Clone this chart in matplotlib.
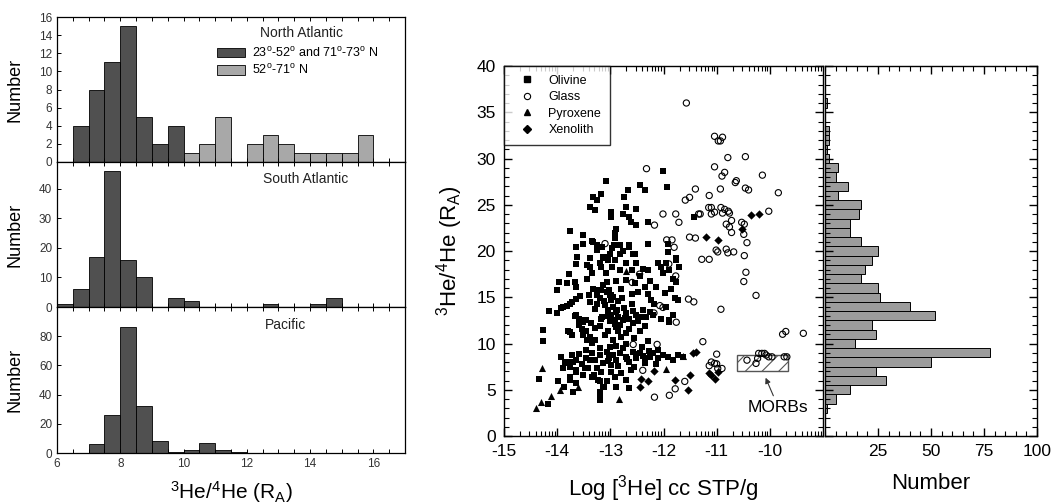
import numpy as np
import matplotlib.pyplot as plt
from matplotlib.patches import Rectangle
from matplotlib.lines import Line2D
from matplotlib.ticker import MultipleLocator, FixedLocator, NullFormatter

plt.rcParams['font.family'] = ['Liberation Sans', 'DejaVu Sans']
plt.rcParams['mathtext.fontset'] = 'custom'
plt.rcParams['mathtext.rm'] = 'Liberation Sans'
plt.rcParams['mathtext.it'] = 'Liberation Sans:italic'
plt.rcParams['mathtext.bf'] = 'Liberation Sans:bold'
plt.rcParams['mathtext.default'] = 'regular'
plt.rcParams['axes.unicode_minus'] = False
plt.rcParams['hatch.color'] = '#444444'
plt.rcParams['hatch.linewidth'] = 0.8

# ---- left histograms: bin left edges (width 0.5 RA) and counts
na_dark_left = [6.5, 7.0, 7.5, 8.0, 8.5, 9.0, 9.5]
na_dark_counts = [4, 8, 11, 15, 5, 2, 4]
na_light_left = [10.0, 10.5, 11.0, 12.0, 12.5, 13.0, 13.5, 14.0, 14.5, 15.0, 15.5]
na_light_counts = [1, 2, 5, 2, 3, 2, 1, 1, 1, 1, 3]
sa_left = [6.0, 6.5, 7.0, 7.5, 8.0, 8.5, 9.5, 10.0, 12.5, 14.0, 14.5]
sa_counts = [1, 6, 17, 46, 16, 10, 3, 2, 1, 1, 3]
pa_left = [7.0, 7.5, 8.0, 8.5, 9.0, 9.5, 10.0, 10.5, 11.0, 11.5]
pa_counts = [6, 26, 86, 32, 8, 1, 2, 7, 2, 1]

# ---- right histogram (bins centred on integer RA)
ra_centers = [3, 4, 5, 6, 7, 8, 9, 10, 11, 12, 13, 14, 15, 16, 17, 18, 19, 20,
              21, 22, 23, 24, 25, 26, 27, 28, 29, 30, 31, 32, 33, 36]
ra_counts = [1, 5, 12, 29, 24, 50, 78, 14, 24, 22, 52, 40, 26, 25, 17, 19, 22, 25,
             17, 12, 12, 16, 17, 6, 11, 5, 6, 2, 1, 2, 2, 1]

# ---- scatter: log[3He] and 3He/4He
olivine_x = [-12.01, -11.94, -13.09, -12.44, -12.35, -12.67, -13.17, -13.32, -13.26, -12.74,
             -13.39, -13.28, -12.71, -12.51, -12.98, -12.76, -12.65, -12.99, -12.62, -12.52,
             -12.29, -11.42, -13.76, -13.52, -13.51, -12.89, -12.92, -12.92, -12.93, -13.32,
             -13.26, -12.82, -12.29, -11.92, -11.92, -12.96, -12.76, -13.64, -13.15, -12.57,
             -11.76, -13.39, -13.34, -13.62, -13.64, -13.44, -13.14, -13.07, -13.17, -13.04,
             -12.97, -13.35, -13.78, -13.96, -14.00, -13.67, -13.65, -13.44, -13.09, -13.06,
             -13.26, -13.17, -13.57, -13.40, -12.99, -12.95, -14.15, -14.00, -13.76, -13.89,
             -14.26, -14.27, -13.76, -13.64, -13.54, -13.59, -13.51, -13.44, -13.86, -13.76,
             -13.64, -13.70, -14.34, -13.98, -13.87, -13.75, -13.70, -14.17, -13.20, -13.30,
             -13.20, -13.12, -13.82, -13.92, -13.81, -13.73, -13.64, -13.66, -13.59, -13.51,
             -13.79, -13.73, -13.54, -13.51, -13.45, -13.39, -13.29, -13.45, -13.37, -13.29,
             -13.39, -13.26, -13.20, -13.32, -13.26, -13.14, -13.07, -13.02, -13.01, -12.98,
             -12.95, -13.04, -12.98, -12.92, -12.89, -12.86, -12.79, -12.82, -12.76, -12.70,
             -12.64, -12.57, -12.64, -12.70, -12.51, -12.42, -12.32, -12.39, -12.26, -12.20,
             -12.54, -12.48, -12.35, -12.29, -12.23, -12.17, -12.14, -12.10, -12.04, -12.01,
             -11.95, -11.89, -11.82, -11.76, -11.71, -11.76, -11.79, -11.73, -11.89, -11.90,
             -12.92, -12.82, -12.70, -12.60, -12.51, -12.39, -12.29, -13.14, -13.01, -13.26,
             -13.20, -13.39, -12.82, -12.64, -12.54, -12.64,
             -13.92, -13.82, -13.73, -13.64, -13.54, -13.45, -13.35, -13.29, -13.20, -13.14,
             -13.07, -13.01, -12.95, -12.89, -12.82, -12.76, -12.70, -12.64, -12.57, -12.51,
             -12.45, -12.35, -12.26, -12.20, -12.10, -12.01, -11.92, -11.82, -11.73, -11.64,
             -13.26, -13.17, -13.35, -13.23, -13.14, -13.19, -13.07, -12.98, -12.92, -12.79,
             -12.70, -12.89, -12.64, -13.64, -13.51, -13.42, -13.76, -13.89, -13.64, -13.20,
             -13.10, -12.85, -12.75, -12.60, -12.90, -13.15, -13.00, -12.85, -13.20, -13.05,
             -13.10, -12.95, -12.55, -12.45, -12.35, -12.30, -13.20, -12.90, -12.70, -12.40,
             -12.10, -13.45, -13.05, -12.85, -12.55, -12.35, -12.15, -13.35, -11.95, -11.82,
             -12.05, -11.98, -11.85, -12.60, -12.80, -12.90, -12.70, -12.45, -12.25,
             -13.05, -12.88, -12.72, -12.48, -13.28, -13.12, -12.78, -12.58, -12.92, -13.18,
             -13.02, -12.68, -12.52, -12.38, -13.38, -13.58, -13.48, -12.98, -12.62, -12.28]
olivine_y = [28.7, 26.9, 27.6, 27.1, 26.6, 26.6, 26.2, 25.8, 25.5, 25.8,
             24.8, 24.4, 24.8, 24.5, 24.2, 24.0, 23.7, 23.7, 23.1, 22.8,
             23.1, 23.7, 22.2, 21.7, 20.8, 22.4, 21.9, 21.4, 20.7, 21.0,
             20.7, 20.6, 20.8, 20.8, 19.9, 20.3, 20.0, 20.4, 20.4, 19.7,
             19.2, 19.2, 21.1, 19.4, 18.6, 18.5, 19.2, 19.4, 18.3, 19.0,
             18.3, 17.6, 17.5, 16.7, 15.8, 16.7, 16.1, 17.0, 17.6, 16.6,
             15.8, 15.8, 15.1, 15.2, 15.2, 15.0, 13.5, 13.25, 14.3, 14.0,
             11.5, 10.3, 11.2, 13.1, 12.5, 12.0, 10.9, 10.4, 7.85, 7.5,
             7.1, 8.0, 6.2, 5.9, 5.3, 6.05, 4.8, 3.45, 4.07, 6.6,
             5.9, 5.3, 16.5, 13.8, 14.1, 14.5, 14.8, 13.0, 12.7, 12.3,
             11.3, 10.9, 11.6, 11.1, 11.3, 10.7, 10.4, 12.5, 12.2, 11.7,
             14.5, 14.3, 14.9, 15.9, 15.2, 16.3, 15.6, 15.8, 15.2, 14.7,
             14.0, 13.6, 13.1, 12.5, 11.8, 11.3, 10.7, 12.0, 12.5, 13.25,
             12.7, 12.2, 11.6, 11.1, 13.1, 12.9, 12.9, 13.6, 13.4, 13.1,
             16.5, 15.6, 16.1, 15.4, 14.7, 14.3, 16.1, 18.65, 18.3, 17.6,
             18.65, 17.9, 17.0, 19.0, 18.3, 16.7, 14.9, 14.7, 12.5, 12.3,
             19.0, 17.9, 18.65, 17.9, 18.65, 18.1, 17.9, 19.4, 19.7, 20.1,
             18.65, 18.3, 19.7, 20.4, 19.7, 20.6,
             8.56, 8.0, 8.75, 8.2, 7.8, 8.4, 8.93, 8.2, 8.75, 7.85,
             9.1, 9.6, 8.75, 8.2, 8.93, 9.5, 8.56, 8.0, 9.1, 8.4,
             8.93, 8.4, 8.56, 8.93, 8.4, 8.75, 8.56, 8.2, 8.75, 8.56,
             7.3, 6.95, 6.4, 6.05, 5.3, 4.8, 5.9, 6.95, 6.4, 6.8,
             6.05, 5.3, 5.15, 6.95, 6.6, 7.3, 6.4, 7.3, 5.7, 3.9,
             14.2, 14.6, 13.8, 14.3, 13.4, 12.9, 12.4, 12.9, 11.9, 11.4,
             10.9, 10.4, 10.6, 11.3, 11.9, 10.3, 9.5, 9.7, 9.9, 9.6,
             9.3, 9.3, 8.1, 7.6, 7.5, 7.9, 7.8, 10.1, 13.9, 13.1,
             12.7, 15.5, 15.9, 15.4, 15.9, 16.8, 16.9, 17.3, 16.8,
             13.0, 13.6, 12.8, 12.4, 13.7, 14.6, 14.9, 13.5, 12.1, 12.6,
             8.4, 8.3, 8.9, 8.7, 8.2, 8.9, 7.3, 7.7, 7.1, 9.2]

glass_x = [-11.57, -12.32, -12.01, -12.17, -11.77, -11.71, -11.94, -11.84, -11.80, -13.10,
           -11.51, -11.40, -11.59, -11.51, -11.40, -11.31, -11.04, -10.97, -11.04, -11.14,
           -11.15, -11.10, -11.04, -11.10, -11.34, -11.28, -11.14, -11.01, -12.59, -12.45,
           -11.77, -10.89, -10.93, -10.79, -10.46, -10.85, -10.90, -10.63, -10.65, -10.93,
           -10.46, -10.40, -10.14, -9.84, -10.92, -10.85, -10.78, -10.76, -10.89, -10.02,
           -10.72, -10.82, -10.76, -10.72, -10.53, -10.48, -10.49, -10.43, -10.98, -10.82,
           -10.79, -10.68, -10.48, -10.45, -10.49, -10.26, -10.92, -9.76, -9.70, -9.37,
           -11.00, -11.00, -10.98, -10.90, -10.21, -10.15, -10.10, -10.07, -10.02, -9.96,
           -9.73, -9.68, -10.23, -10.43, -10.26, -11.53, -11.43, -12.01, -12.18, -11.76,
           -12.57, -12.12, -11.26, -12.39, -11.60, -11.78, -11.89, -12.17, -11.10, -11.04,
           -11.14, -12.07, -11.90]
glass_y = [36.0, 28.9, 24.0, 22.8, 24.0, 23.1, 21.2, 21.2, 20.4, 20.8,
           21.5, 21.4, 25.5, 25.8, 26.7, 24.0, 32.4, 31.9, 29.1, 26.0,
           24.7, 24.7, 24.2, 24.0, 24.0, 19.1, 19.1, 20.1, 16.6, 17.5,
           17.3, 32.3, 31.9, 30.1, 30.2, 28.5, 28.1, 27.6, 27.4, 26.7,
           26.8, 26.6, 28.2, 26.3, 24.7, 24.5, 24.3, 24.1, 24.1, 24.3,
           23.3, 22.9, 22.6, 22.0, 23.1, 22.9, 21.8, 20.9, 19.9, 20.2,
           19.8, 19.9, 19.5, 17.7, 16.7, 15.2, 13.7, 11.0, 11.3, 11.1,
           8.85, 7.8, 7.3, 7.3, 8.93, 8.93, 8.93, 8.75, 8.56, 8.56,
           8.56, 8.56, 8.39, 8.2, 7.85, 14.8, 14.5, 13.9, 13.3, 12.3,
           9.9, 9.9, 10.2, 7.1, 5.9, 5.1, 4.4, 4.2, 8.0, 7.85,
           7.6, 14.1, 18.6]

pyroxene_x = [-14.40, -14.31, -14.12, -14.28, -13.61, -12.84, -11.95, -11.64, -12.71, -13.95]
pyroxene_y = [3.0, 3.7, 4.3, 7.3, 5.3, 4.0, 7.2, 8.7, 17.85, 5.0]

xenolith_x = [-11.21, -10.98, -10.35, -10.21, -10.53, -11.45, -11.38, -12.17, -12.42, -12.29,
              -12.45, -11.79, -11.51, -11.53, -11.10, -11.04, -11.14, -10.98]
xenolith_y = [21.5, 21.2, 23.9, 24.0, 22.4, 9.0, 9.1, 7.0, 6.2, 6.0,
              5.3, 6.05, 6.6, 5.0, 6.6, 6.2, 6.77, 6.94]

morb_x = (-10.62, -9.65)
morb_y = (7.0, 8.75)

# ---------------------------------------------------------------
fig = plt.figure(figsize=(10.52, 5.04), dpi=100)

dark = '#505050'
light = '#a8a8a8'
W, H = 1052.0, 504.0


def px_axes(x0, y0, x1, y1):
    return fig.add_axes([x0 / W, 1 - y1 / H, (x1 - x0) / W, (y1 - y0) / H])


ax_na = px_axes(57, 17, 405, 162)
ax_sa = px_axes(57, 162, 405, 307)
ax_pa = px_axes(57, 307, 405, 453)

ax_na.bar(na_dark_left, na_dark_counts, width=0.5, align='edge', color=dark,
          edgecolor='black', lw=0.6, label='23$^o$-52$^o$ and 71$^o$-73$^o$ N')
ax_na.bar(na_light_left, na_light_counts, width=0.5, align='edge', color=light,
          edgecolor='black', lw=0.6, label='52$^o$-71$^o$ N')
ax_sa.bar(sa_left, sa_counts, width=0.5, align='edge', color=dark, edgecolor='black', lw=0.6)
ax_pa.bar(pa_left, pa_counts, width=0.5, align='edge', color=dark, edgecolor='black', lw=0.6)

ax_na.set_ylim(0, 16)
ax_na.yaxis.set_major_locator(MultipleLocator(2))
ax_sa.set_ylim(0, 49)
ax_sa.yaxis.set_major_locator(FixedLocator([0, 10, 20, 30, 40]))
ax_pa.set_ylim(0, 100)
ax_pa.yaxis.set_major_locator(FixedLocator([0, 20, 40, 60, 80]))

for a in (ax_na, ax_sa, ax_pa):
    a.set_xlim(6, 17)
    a.xaxis.set_major_locator(MultipleLocator(2))
    a.xaxis.set_minor_locator(MultipleLocator(0.5))
    a.tick_params(axis='both', which='both', direction='in', top=True,
                  labelsize=8.5, labelcolor='#333333', length=3, width=0.7)
    a.set_ylabel('Number', fontsize=13)
    a.yaxis.set_label_coords(-0.095, 0.5)
    for s in a.spines.values():
        s.set_linewidth(0.9)
for a in (ax_na, ax_sa):
    a.tick_params(labelbottom=False)

ax_na.text(0.704, 0.89, 'North Atlantic', transform=ax_na.transAxes, ha='center',
           va='center', fontsize=10, color='#222222')
ax_na.legend(loc='upper left', bbox_to_anchor=(0.46, 0.80), frameon=False, fontsize=9,
             handlelength=2.2, handleheight=0.8, handletextpad=0.6, labelspacing=0.25,
             borderaxespad=0, borderpad=0)
ax_sa.text(0.714, 0.88, 'South Atlantic', transform=ax_sa.transAxes, ha='center',
           va='center', fontsize=10, color='#222222')
ax_pa.text(0.657, 0.877, 'Pacific', transform=ax_pa.transAxes, ha='center',
           va='center', fontsize=10, color='#222222')
ax_pa.set_xlabel('$^3$He/$^4$He (R$_A$)', fontsize=15, labelpad=7)

# ---- scatter
ax_sc = px_axes(504, 66, 823, 436)
ax_sc.scatter(olivine_x, olivine_y, marker='s', s=22, c='black', lw=0, zorder=3)
ax_sc.scatter(glass_x, glass_y, marker='o', s=20, facecolors='none', edgecolors='black',
              lw=0.8, zorder=3)
ax_sc.scatter(pyroxene_x, pyroxene_y, marker='^', s=26, c='black', lw=0, zorder=3)
ax_sc.scatter(xenolith_x, xenolith_y, marker='D', s=18, c='black', lw=0, zorder=3)

ax_sc.add_patch(Rectangle((morb_x[0], morb_y[0]), morb_x[1] - morb_x[0], morb_y[1] - morb_y[0],
                          facecolor='none', edgecolor='#555555', hatch='//', lw=1.0, zorder=2))
ax_sc.annotate('MORBs', xy=(-10.08, 6.3), xytext=(-9.84, 3.1), ha='center', va='center',
               fontsize=12.5, arrowprops=dict(arrowstyle='-|>', color='#333333', lw=0.8,
                                             mutation_scale=8, shrinkA=1, shrinkB=0))

ax_sc.set_xlim(-15, -9)
ax_sc.set_ylim(0, 40)
ax_sc.xaxis.set_major_locator(FixedLocator([-15, -14, -13, -12, -11, -10]))
ax_sc.xaxis.set_minor_locator(FixedLocator([d + np.log10(k) for d in range(-15, -9)
                                            for k in range(2, 10)]))
ax_sc.yaxis.set_major_locator(MultipleLocator(5))
ax_sc.yaxis.set_minor_locator(MultipleLocator(1))
ax_sc.tick_params(axis='both', which='major', direction='in', top=True, right=True,
                  length=6, width=1.0, labelsize=12.5, pad=6)
ax_sc.tick_params(axis='both', which='minor', direction='in', top=True, right=True,
                  length=3.5, width=0.8)
ax_sc.set_xlabel('Log [$^3$He] cc STP/g', fontsize=16, labelpad=10)
ax_sc.set_ylabel('$^3$He/$^4$He (R$_A$)', fontsize=16, labelpad=8)
for s in ax_sc.spines.values():
    s.set_linewidth(1.0)

handles = [Line2D([], [], ls='none', marker='s', ms=4.5, color='black'),
           Line2D([], [], ls='none', marker='o', ms=4.5, mfc='none', mec='black', mew=0.8),
           Line2D([], [], ls='none', marker='^', ms=5, color='black'),
           Line2D([], [], ls='none', marker='D', ms=4, color='black')]
leg = ax_sc.legend(handles, ['Olivine', 'Glass', 'Pyroxene', 'Xenolith'], loc='upper left',
                   bbox_to_anchor=(0, 1), borderaxespad=0, fontsize=9, fancybox=False,
                   edgecolor='black', handlelength=2.2, handletextpad=0.65,
                   labelspacing=0.35, borderpad=0.7)
leg.get_frame().set_linewidth(1.0)

# ---- right histogram
ax_h = px_axes(825, 66, 1037, 436)
ax_h.barh(ra_centers, ra_counts, height=1.0, color='#9c9c9c', edgecolor='black', lw=0.7)
ax_h.set_ylim(0, 40)
ax_h.set_xlim(0, 100)
ax_h.xaxis.set_major_locator(FixedLocator([25, 50, 75, 100]))
ax_h.xaxis.set_minor_locator(MultipleLocator(5))
ax_h.yaxis.set_major_locator(MultipleLocator(5))
ax_h.yaxis.set_minor_locator(MultipleLocator(1))
ax_h.yaxis.set_major_formatter(NullFormatter())
ax_h.tick_params(axis='both', which='major', direction='in', top=True, right=True,
                 length=6, width=1.0, labelsize=12.5, pad=6)
ax_h.tick_params(axis='both', which='minor', direction='in', top=True, right=True,
                 length=3.5, width=0.8)
ax_h.set_xlabel('Number', fontsize=16, labelpad=10)
for s in ax_h.spines.values():
    s.set_linewidth(1.0)

fig.savefig('out.png', dpi=100)
